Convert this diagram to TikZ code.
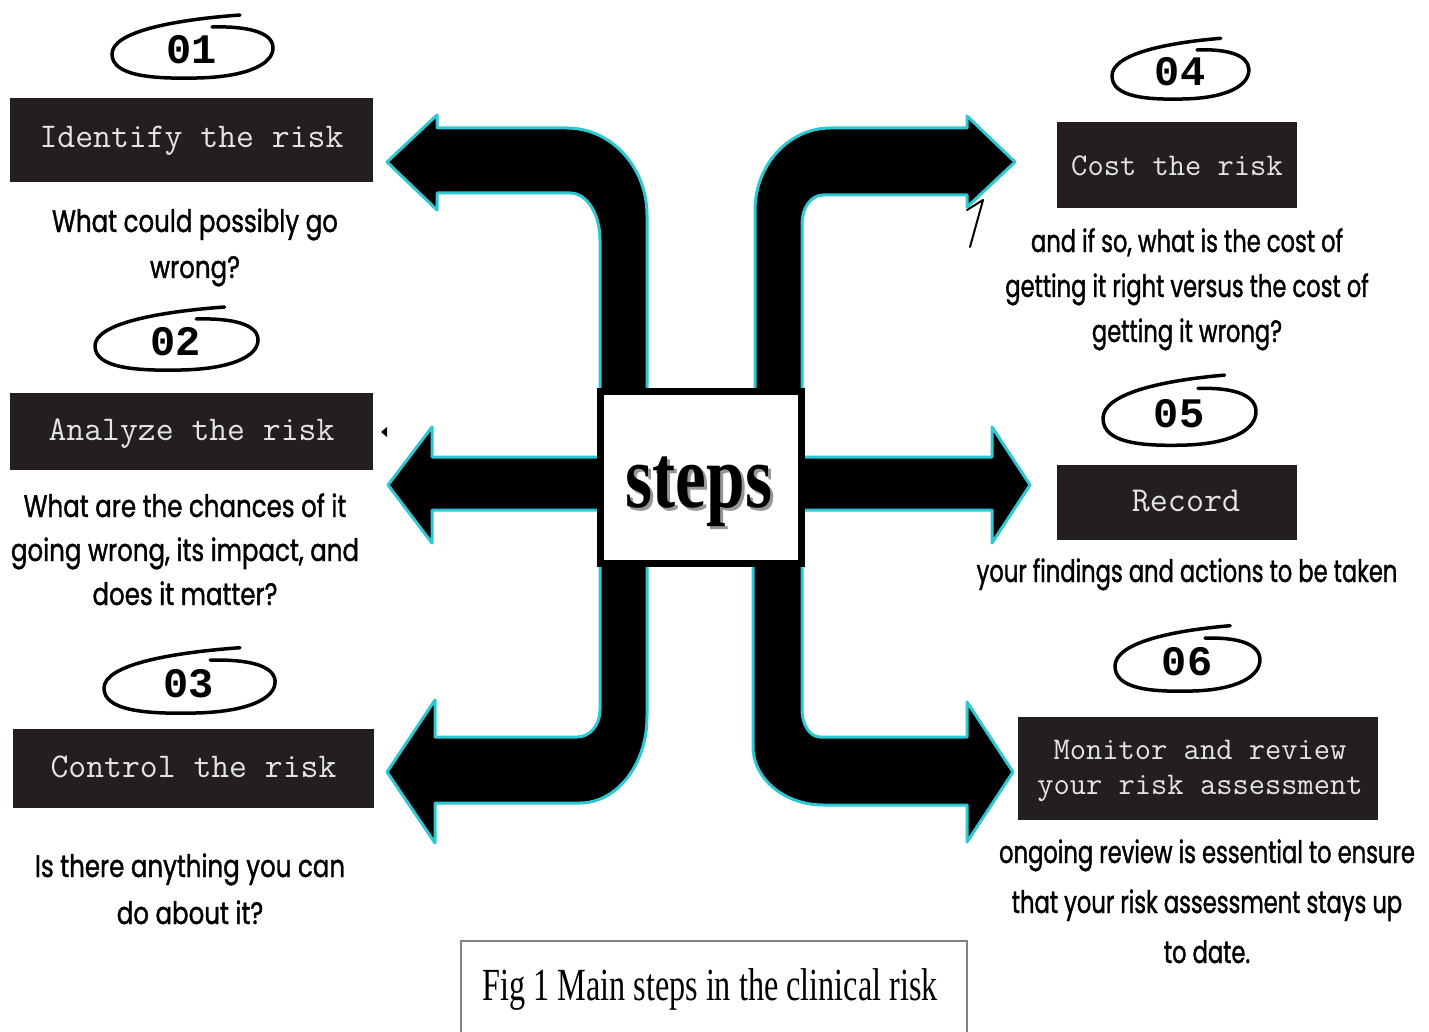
\documentclass[tikz,border=0pt]{standalone}
\usepackage{fontspec}
\usepackage{tikz}
\newfontfamily\descfont[FakeStretch=0.79, FakeBold=1.2]{Poppins}
\newfontfamily\descnarrow[FakeStretch=0.73, FakeBold=1.2]{Poppins}
\newfontfamily\numfont{Liberation Mono}
\newfontfamily\capfont[FakeStretch=0.7]{Liberation Serif}
\newfontfamily\stepsfont[FakeStretch=0.77]{Liberation Serif}

\tikzset{
  riskbox/.style={fill=boxColor, inner sep=0pt},
  risklabel/.style={text=labelColor, inner sep=0pt, align=center, anchor=base,
    font={\ttfamily\fontsize{#1}{35}\selectfont}},
  fatarrow/.style={fill=black, draw=glowColor, line width=3pt, line join=round},
  numloop/.style={draw=black, line width=3.5pt, line cap=round, line join=round},
  numtext/.style={font={\numfont\bfseries\fontsize{42}{42}\selectfont}, inner sep=0pt},
  desctext/.style={font={\descfont\fontsize{31}{#1}\selectfont}, align=center, anchor=base, inner sep=0pt},
  descright/.style={font={\descnarrow\fontsize{31}{#1}\selectfont}, align=center, anchor=base, inner sep=0pt}
}

\begin{document}
\begin{tikzpicture}[x=1pt,y=-1pt]
\definecolor{boxColor}{RGB}{35,31,32}
\definecolor{labelColor}{RGB}{228,228,228}
\definecolor{glowColor}{RGB}{45,200,210}
\definecolor{shadowColor}{RGB}{150,150,150}
\definecolor{frameColor}{RGB}{130,130,130}
\path[use as bounding box,fill=white] (0,0) rectangle (1429,1032);

\path[fatarrow] (387,162) -- (437,115) -- (437,128) -- (567,128)
  .. controls (611,128) and (647,167) .. (647,215) -- (647,420) -- (600,420) -- (600,240)
  .. controls (600,214) and (587,193) .. (570,193) -- (437,193) -- (437,210) -- cycle;

\path[fatarrow] (1015,162) -- (967,116) -- (967,128) -- (830,128)
  .. controls (789,128) and (755,165) .. (755,210) -- (755,420) -- (802,420) -- (802,223)
  .. controls (802,208) and (811,195) .. (823,195) -- (967,195) -- (967,207) -- cycle;

\path[fatarrow] (387,772) -- (435,700) -- (435,737) -- (577,737)
  .. controls (590,737) and (600,725) .. (600,710) -- (600,540) -- (647,540) -- (647,717)
  .. controls (647,764) and (617,803) .. (580,803) -- (435,803) -- (435,843) -- cycle;

\path[fatarrow] (1013,772) -- (967,702) -- (967,737) -- (820,737)
  .. controls (810,737) and (802,725) .. (802,710) -- (802,540) -- (753,540) -- (753,747)
  .. controls (753,779) and (785,805) .. (823,805) -- (967,805) -- (967,842) -- cycle;

\path[fatarrow] (388,485) -- (432,427) -- (432,457) -- (640,457) -- (640,510)
  -- (432,510) -- (432,543) -- cycle;

\path[fatarrow] (1030,485) -- (992,427) -- (992,457) -- (760,457) -- (760,510)
  -- (992,510) -- (992,543) -- cycle;

\node[draw=black, line width=7pt, fill=white, minimum width=201pt, minimum height=172pt, inner sep=0pt] (steps) at (701,477.5) {};
\node[text=black, anchor=base, inner sep=0pt, font={\stepsfont\bfseries\fontsize{90}{90}\selectfont}] (stepslabel) at (699,507)
  {\rlap{\kern3pt\raisebox{-3pt}{\textcolor{shadowColor}{steps}}}steps};

\node[riskbox, minimum width=363pt, minimum height=84pt] (identify) at (191.5,140) {};
\node[risklabel=34.7] (identifylabel) at (191.5,148) {Identify the risk};
\node[riskbox, minimum width=363pt, minimum height=77pt] (analyze) at (191.5,431.5) {};
\node[risklabel=34.7] (analyzelabel) at (191.5,440) {Analyze the risk};
\node[riskbox, minimum width=361pt, minimum height=79pt] (control) at (193.5,768.5) {};
\node[risklabel=34.7] (controllabel) at (193.5,777) {Control the risk};
\node[riskbox, minimum width=240pt, minimum height=86pt] (cost) at (1177,165) {};
\node[risklabel=31.6] (costlabel) at (1177,176) {Cost the risk};
\node[riskbox, minimum width=240pt, minimum height=75pt] (record) at (1177,502.5) {};
\node[risklabel=35] (recordlabel) at (1186,511) {Record};
\node[riskbox, minimum width=360pt, minimum height=103pt] (monitor) at (1198,768.5) {};
\node[risklabel=31.6] (monitorlabel) at (1200,794) {Monitor and review\\your risk assessment};

\foreach \cx/\cy/\rx/\ry/\nlab in {192/50/80/27/01, 176/342/81/27/02, 189/684/85/28/03,
                                   1180/72/68/26/04, 1179/414/76/30/05, 1187/662/72/28/06} {
  \begin{scope}[shift={(\cx,\cy)}, xscale=\rx/80, yscale=\ry/27]
    \path[numloop] (48,-35) .. controls (-20,-30) and (-80,-18) .. (-80,4)
      .. controls (-80,26) and (-40,29) .. (5,28)
      .. controls (55,27) and (82,14) .. (81,-3)
      .. controls (80,-18) and (55,-24) .. (20,-23);
  \end{scope}
  \node[numtext] (num\nlab) at (\cx,\cy) {\nlab};
}

\node[desctext=46] (whatwrong) at (195,278) {What could possibly go\\wrong?};
\node[desctext=44] (chances) at (185,605) {What are the chances of it\\going wrong, its impact, and\\does it matter?};
\node[desctext=47] (anything) at (190,924) {Is there anything you can\\do about it?};
\node[descright=45] (costof) at (1187,342) {and if so, what is the cost of\\getting it right versus the cost of\\getting it wrong?};
\node[descright=45] (findings) at (1187,582) {your findings and actions to be taken};
\node[descright=50] (ongoing) at (1207,963) {ongoing review is essential to ensure\\that your risk assessment stays up\\to date.};

\path[draw=black, line width=2pt, line cap=round, line join=round] (967,210) -- (983,200) -- (970,247);
\path[fill=black] (381,432) -- (387,427) -- (387,437) -- cycle;

\path[draw=frameColor, line width=2pt] (461,1032) -- (461,941) -- (967,941) -- (967,1032);
\node[anchor=base, inner sep=0pt, font={\capfont\fontsize{46}{46}\selectfont}] (caption) at (710,1000) {Fig 1 Main steps in the clinical risk};
\end{tikzpicture}
\end{document}
